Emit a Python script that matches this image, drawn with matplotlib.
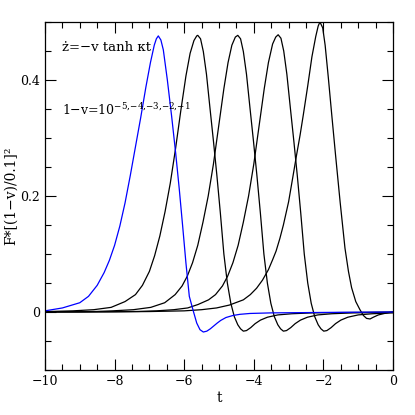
import matplotlib
matplotlib.use("Agg")
import matplotlib.pyplot as plt
from matplotlib.ticker import MultipleLocator, FuncFormatter

plt.rcParams['font.family'] = ['DejaVu Serif']
plt.rcParams['mathtext.fontset'] = 'dejavuserif'

# curve with 1-v = 1e-5 (blue)
t_blue = [-10, -9.5, -9.0, -8.75, -8.5, -8.3, -8.15, -8.0, -7.85, -7.7,
          -7.55, -7.4, -7.25, -7.1, -6.97, -6.86, -6.8, -6.744, -6.67, -6.60,
          -6.485, -6.36, -6.245, -6.14, -6.044, -5.95, -5.853, -5.74, -5.64, -5.546,
          -5.45, -5.35, -5.25, -5.15, -5.05, -4.95, -4.8, -4.6, -4.4, -4.11,
          -3.5, -2.5, -1.5, 0]
v_blue = [0.002, 0.007, 0.016, 0.027, 0.046, 0.068, 0.089, 0.115, 0.148, 0.188,
          0.235, 0.285, 0.335, 0.388, 0.43, 0.46, 0.471, 0.476, 0.469, 0.452,
          0.4005, 0.337, 0.274, 0.211, 0.148, 0.0845, 0.027, 0.002, -0.019, -0.0305,
          -0.0345, -0.033, -0.029, -0.024, -0.019, -0.0145, -0.0095, -0.006, -0.004, -0.0025,
          -0.0015, -0.001, -0.0005, 0]

t_k1 = [-10, -9.2, -8.6, -8.1, -7.7, -7.4, -7.2, -7.0, -6.85, -6.7,
        -6.55, -6.4, -6.25, -6.1, -5.95, -5.83, -5.72, -5.64, -5.61, -5.53,
        -5.45, -5.36, -5.26, -5.16, -5.06, -4.96, -4.86, -4.76, -4.66, -4.56,
        -4.46, -4.38, -4.30, -4.21, -4.09, -3.96, -3.81, -3.61, -3.31, -2.91,
        -2.31, -1.6, -0.6, 0]
v_k1 = [0.0007, 0.002, 0.004, 0.008, 0.018, 0.03, 0.046, 0.07, 0.097, 0.131,
        0.173, 0.222, 0.281, 0.346, 0.407, 0.446, 0.468, 0.476, 0.477, 0.471,
        0.449, 0.41, 0.352, 0.295, 0.235, 0.17, 0.10, 0.05, 0.015, -0.008,
        -0.022, -0.029, -0.033, -0.032, -0.027, -0.02, -0.014, -0.009, -0.005, -0.003,
        -0.0015, -0.001, -0.0005, -0.0003]

t_k2 = [-10, -9.0, -8.5, -8.06, -7.46, -6.96, -6.56, -6.26, -6.06, -5.91,
        -5.76, -5.61, -5.46, -5.31, -5.16, -5.01, -4.86, -4.74, -4.63, -4.53,
        -4.46, -4.38, -4.30, -4.21, -4.11, -4.01, -3.91, -3.81, -3.71, -3.61,
        -3.51, -3.41, -3.31, -3.23, -3.15, -3.06, -2.94, -2.81, -2.66, -2.46,
        -2.16, -1.76, -1.16, -0.46, 0]
v_k2 = [0.0002, 0.0005, 0.001, 0.002, 0.004, 0.008, 0.016, 0.03, 0.045, 0.062,
        0.085, 0.115, 0.155, 0.2, 0.255, 0.32, 0.385, 0.43, 0.46, 0.474,
        0.477, 0.471, 0.449, 0.41, 0.352, 0.295, 0.235, 0.17, 0.10, 0.05,
        0.015, -0.008, -0.022, -0.029, -0.033, -0.032, -0.027, -0.02, -0.014, -0.009,
        -0.005, -0.003, -0.0015, -0.0008, -0.0005]

t_k3 = [-10, -8.3, -7.3, -6.8, -6.3, -5.9, -5.6, -5.3, -5.1, -4.9,
        -4.75, -4.6, -4.45, -4.3, -4.15, -4.0, -3.85, -3.7, -3.58, -3.46,
        -3.37, -3.30, -3.22, -3.14, -3.05, -2.95, -2.85, -2.75, -2.65, -2.55,
        -2.45, -2.35, -2.25, -2.15, -2.07, -1.99, -1.90, -1.78, -1.65, -1.50,
        -1.30, -1.00, -0.60, 0]
v_k3 = [0.0001, 0.0004, 0.001, 0.002, 0.004, 0.007, 0.013, 0.021, 0.030, 0.045,
        0.062, 0.085, 0.115, 0.155, 0.2, 0.255, 0.32, 0.385, 0.43, 0.462,
        0.474, 0.478, 0.472, 0.45, 0.41, 0.352, 0.295, 0.235, 0.17, 0.10,
        0.05, 0.015, -0.008, -0.022, -0.029, -0.033, -0.032, -0.027, -0.02, -0.014,
        -0.009, -0.005, -0.003, -0.0015]

# curve with 1-v = 0.1
t_k4 = [-10, -8.0, -7.0, -6.0, -5.5, -5.07, -4.7, -4.30, -4.1, -3.92,
        -3.75, -3.58, -3.46, -3.36, -3.25, -3.15, -3.0, -2.88, -2.77, -2.67,
        -2.577, -2.45, -2.33, -2.22, -2.15, -2.10, -2.02, -1.95, -1.86, -1.76,
        -1.65, -1.52, -1.38, -1.28, -1.19, -1.07, -0.95, -0.85, -0.76, -0.66,
        -0.566, -0.42, -0.28, -0.14, 0]
v_k4 = [0.0001, 0.0003, 0.0008, 0.002, 0.004, 0.007, 0.012, 0.021, 0.03, 0.041,
        0.055, 0.073, 0.09, 0.105, 0.127, 0.15, 0.19, 0.232, 0.271, 0.305,
        0.34, 0.39, 0.44, 0.475, 0.493, 0.500, 0.49, 0.46, 0.405, 0.34,
        0.27, 0.19, 0.11, 0.07, 0.042, 0.018, 0.004, -0.006, -0.011, -0.012,
        -0.009, -0.005, -0.003, -0.001, 0]

fig = plt.figure(figsize=(4.15, 4.15), dpi=100)
ax = fig.add_axes([0.1084, 0.1084, 0.8386, 0.8386])

for tt, vv in [(t_k1, v_k1), (t_k2, v_k2), (t_k3, v_k3), (t_k4, v_k4)]:
    ax.plot(tt, vv, color='black', lw=0.9)
ax.plot(t_blue, v_blue, color='#0000ff', lw=0.9)

ax.set_xlim(-10, 0)
ax.set_ylim(-0.1, 0.5)
ax.xaxis.set_major_locator(MultipleLocator(2))
ax.xaxis.set_minor_locator(MultipleLocator(0.5))
ax.yaxis.set_major_locator(MultipleLocator(0.2))
ax.yaxis.set_minor_locator(MultipleLocator(0.05))
ax.yaxis.set_major_formatter(FuncFormatter(lambda v, p: '%g' % round(v, 3)))
ax.tick_params(which='both', direction='in', top=True, right=True, labelsize=9)
ax.tick_params(which='major', length=8, width=0.8)
ax.tick_params(which='minor', length=4, width=0.8)
for s in ax.spines.values():
    s.set_linewidth(0.9)

ax.set_xlabel('t', fontsize=10, labelpad=2)
ax.set_ylabel('F*[(1\u2212v)/0.1]\u00b2', fontsize=10, labelpad=2)

ax.text(0.05, 0.928, '\u017c=\u2212v tanh \u03bat', transform=ax.transAxes,
        fontsize=9.5, va='center')
ax.text(0.05, 0.747, '1\u2212v=10' + r'$^{\mathregular{{-}5{,}{-}4{,}{-}3{,}{-}2{,}{-}1}}$',
        transform=ax.transAxes, fontsize=9, va='center')

fig.savefig('out.png', dpi=100)
